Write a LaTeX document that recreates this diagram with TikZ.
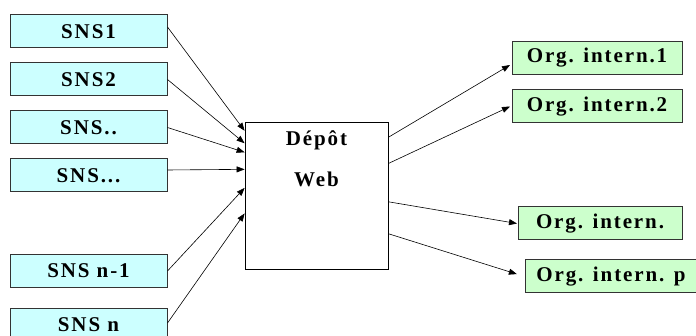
\documentclass[tikz,border=0pt]{standalone}
\usepackage{fontspec}
\setmainfont{Liberation Serif}[LetterSpace=9]
\usetikzlibrary{arrows.meta}
\definecolor{snsfill}{HTML}{CCFFFF}
\definecolor{orgfill}{HTML}{CCFFCC}
\definecolor{boxline}{HTML}{333333}
\begin{document}
\begin{tikzpicture}[x=1pt,y=-1pt,
  lbl/.style={font=\fontsize{21}{23}\selectfont\bfseries},
  snsbox/.style={draw=boxline, line width=1pt, fill=snsfill, minimum width=157pt, minimum height=33pt, inner sep=0pt, lbl},
  orgbox/.style={draw=boxline, line width=1pt, fill=orgfill, minimum height=33pt, inner sep=0pt, lbl},
  depbox/.style={draw=black, line width=0.8pt, fill=white, minimum width=143pt, minimum height=147pt, inner sep=0pt},
  conn/.style={draw=black, line width=0.6pt, -{Triangle[length=8pt,width=6pt]}}
]
\useasboundingbox (0,0) rectangle (696,336);
\clip (0,0) rectangle (696,336);
% left boxes
\node[snsbox] (s1) at (88.5,31.5) {SNS1};
\node[snsbox] (s2) at (88.5,79.5) {SNS2};
\node[snsbox] (s3) at (88.5,127.5) {SNS..};
\node[snsbox] (s4) at (88.5,175.5) {SNS...};
\node[snsbox] (s5) at (88.5,271) {SNS n-1};
\node[snsbox] (s6) at (88.5,325) {SNS n};
% center box
\node[depbox] (dep) at (316.5,195.5) {};
\node[lbl] (t1) at (316.5,140) {Dépôt};
\node[lbl] (t2) at (316.5,179) {Web};
% right boxes
\node[orgbox, minimum width=170pt] (o1) at (597,58) {Org. intern.1};
\node[orgbox, minimum width=170pt] (o2) at (597,106.5) {Org. intern.2};
\node[orgbox, minimum width=164pt] (o3) at (600,223.5) {Org. intern.};
\node[orgbox, minimum width=172pt] (o4) at (611,276.5) {Org. intern. p};
% connectors in
\draw[conn] ([yshift=4.5pt]s1.east) -- (dep.138.8);
\draw[conn] (s2.east) -- (dep.144.8);
\draw[conn] (s3.east) -- (dep.149.3);
\draw[conn] ([yshift=5.5pt]s4.east) -- (dep.160.4);
\draw[conn] (s5.east) -- (dep.174.0);
\draw[conn] ([yshift=2pt]s6.east) -- (dep.194.5);
% connectors out
\draw[conn] (dep.39.3) -- ([yshift=-7pt,xshift=-1.5pt]o1.west);
\draw[conn] (dep.24.4) -- ([xshift=-1.5pt]o2.west);
\draw[conn] (dep.-5.2) -- ([xshift=-0.5pt]o3.west);
\draw[conn, shorten >=8pt] (dep.-28.3) -- (o4.west);
\end{tikzpicture}
\end{document}
